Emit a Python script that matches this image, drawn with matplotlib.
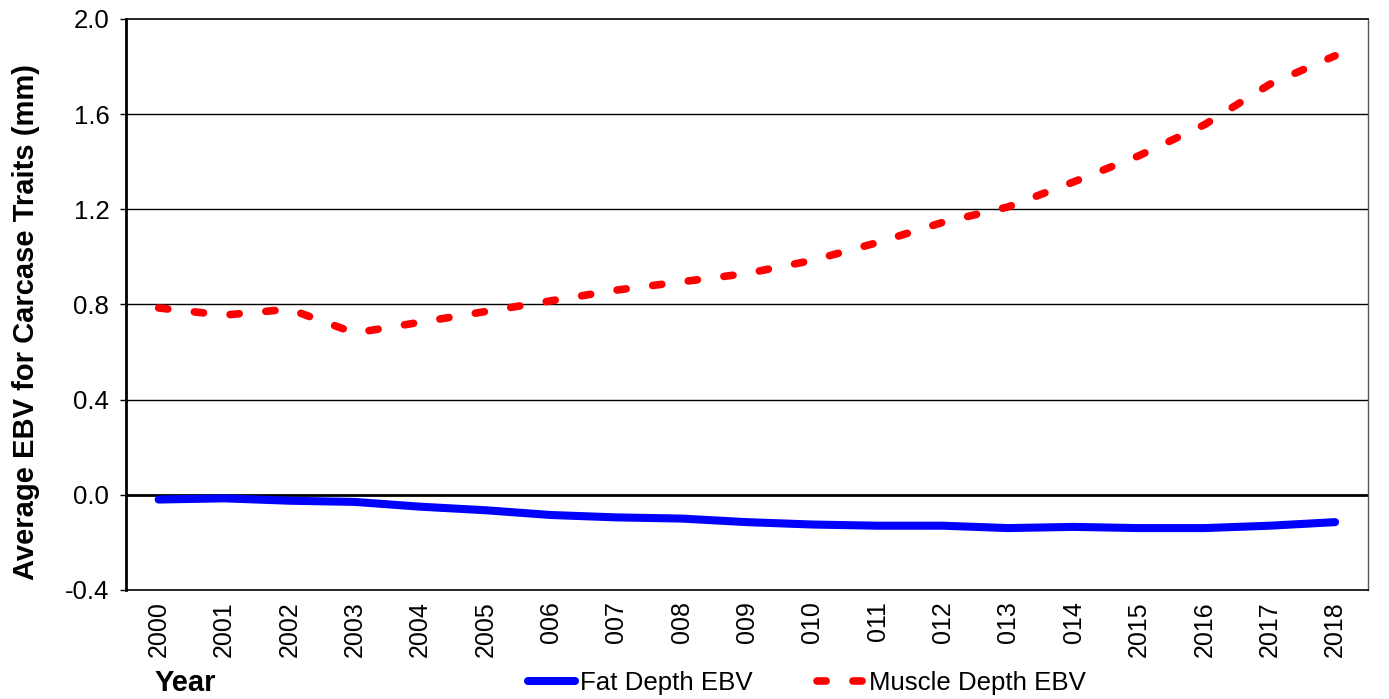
import matplotlib
matplotlib.use("Agg")
import matplotlib.pyplot as plt

# tick labels as printed on the original (some are truncated)
year_labels = ["2000", "2001", "2002", "2003", "2004", "2005", "006", "007", "008",
               "009", "010", "011", "012", "013", "014", "2015", "2016", "2017", "2018"]
fat_depth = [-0.02, -0.015, -0.025, -0.03, -0.05, -0.065, -0.085, -0.095, -0.1,
             -0.115, -0.125, -0.13, -0.13, -0.14, -0.135, -0.14, -0.14, -0.13, -0.115]
muscle_depth = [0.785, 0.755, 0.78, 0.68, 0.725, 0.77, 0.815, 0.86, 0.895,
                0.93, 0.985, 1.06, 1.145, 1.21, 1.315, 1.425, 1.555, 1.725, 1.845]
y_ticks = [-0.4, 0.0, 0.4, 0.8, 1.2, 1.6, 2.0]

plt.rcParams["font.family"] = ["Liberation Sans", "DejaVu Sans"]

fig = plt.figure(figsize=(13.89, 6.99), dpi=100)
ax = fig.add_axes([0.0907, 0.156, 0.894, 0.817])

x = list(range(len(year_labels)))
ax.plot(x, fat_depth, color="#0000ff", lw=5.8, solid_capstyle="round",
        label="Fat Depth EBV", zorder=3)
ax.plot(x, muscle_depth, color="#ff0000", lw=5.5, dashes=(1.2, 3.5),
        dash_capstyle="round", label="Muscle Depth EBV", zorder=3)

ax.set_xlim(-0.5, len(year_labels) - 0.5)
ax.set_ylim(-0.4, 2.0)
ax.set_yticks(y_ticks)
ax.set_yticklabels([f"{v:.1f}" for v in y_ticks], fontsize=18.5)
ax.set_xticks(x)
ax.set_xticklabels(year_labels, rotation=90, fontsize=18)
ax.tick_params(axis="x", length=0, pad=8)
ax.tick_params(axis="y", length=4, width=1, direction="out", pad=8)

for v in y_ticks[1:-1]:
    ax.axhline(v, color="black", lw=2.0 if v == 0 else 1.0, zorder=1)

for side in ["left", "top", "bottom"]:
    ax.spines[side].set_color("black")
ax.spines["left"].set_linewidth(2)
ax.spines["top"].set_linewidth(1.2)
ax.spines["bottom"].set_linewidth(1.2)
ax.spines["right"].set_color("#555555")
ax.spines["right"].set_linewidth(1)

ax.set_ylabel("Average EBV for Carcase Traits (mm)", fontsize=21, fontweight="bold")
ax.yaxis.set_label_coords(-0.069, 0.469)
fig.text(0.111, 0.012, "Year", fontsize=21, fontweight="bold", va="baseline")

fig.legend(loc="lower center", bbox_to_anchor=(0.581, -0.028), ncol=2, frameon=False,
           fontsize=18.6, handlelength=1.8, handletextpad=0.2, columnspacing=2.5)

fig.savefig("out.png", dpi=100)
